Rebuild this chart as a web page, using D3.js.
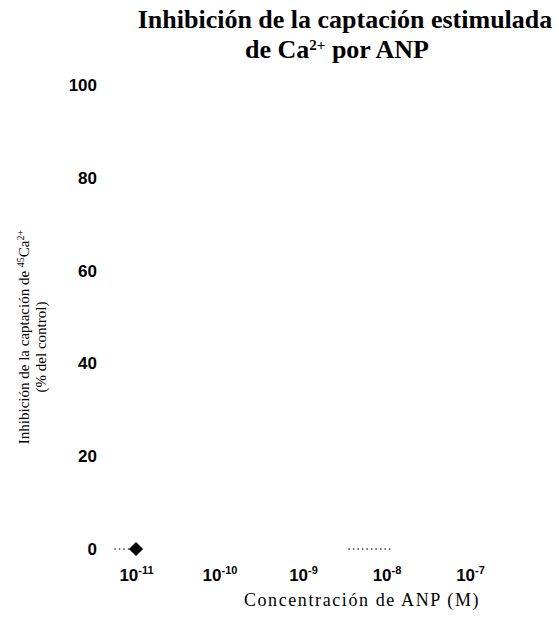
<!DOCTYPE html>
<html>
<head>
<meta charset="utf-8">
<script src="https://cdn.jsdelivr.net/npm/d3@7"></script>
<style>
  body { margin: 0; background: #fff; }
  svg { display: block; }
</style>
</head>
<body>
<div id="chart"></div>
<script>
// data
const concentrations = [1e-11];
const inhibition = [0];
// faint dotted remnants along the zero line
const dottedStarts = [5.5e-12, 3.5e-9];
const dottedEnds = [8.9e-12, 1.2e-8];
const xTicks = [1e-11, 1e-10, 1e-9, 1e-8, 1e-7];
const xTickExponents = ["-11", "-10", "-9", "-8", "-7"];
const yTicks = [0, 20, 40, 60, 80, 100];

const width = 559, height = 620;

const svg = d3.select("#chart").append("svg")
    .attr("width", width)
    .attr("height", height);

const x = d3.scaleLog()
    .domain([1e-11, 1e-7])
    .range([136, 470]);

const y = d3.scaleLinear()
    .domain([0, 100])
    .range([549, 85]);

// title
const title = svg.append("text")
    .attr("text-anchor", "middle")
    .style("font-family", "'Liberation Serif', 'Times New Roman', serif")
    .style("font-weight", "bold")
    .style("font-size", "26px")
    .attr("fill", "#000");
title.append("tspan").attr("x", 345).attr("y", 28).text("Inhibición de la captación estimulada");
const t2 = title.append("tspan").attr("x", 337).attr("y", 58);
t2.append("tspan").text("de Ca");
t2.append("tspan").attr("dy", -8).style("font-size", "15px").text("2+");
t2.append("tspan").attr("dy", 8).text(" por ANP");

// y axis (no line, labels only)
const yAxis = svg.append("g")
    .attr("transform", "translate(97,0)")
    .call(d3.axisLeft(y).tickValues(yTicks).tickSize(0).tickPadding(0));
yAxis.select(".domain").remove();
yAxis.selectAll("text")
    .style("font-family", "'Liberation Sans', Arial, sans-serif")
    .style("font-weight", "bold")
    .style("font-size", "17px")
    .attr("fill", "#000");

// x axis (no line, labels only)
const xAxis = svg.append("g")
    .attr("transform", "translate(0,560)")
    .call(d3.axisBottom(x).tickValues(xTicks).tickSize(0).tickPadding(0).tickFormat(""));
xAxis.select(".domain").remove();
xAxis.selectAll(".tick text").each(function(d, i) {
    const t = d3.select(this)
        .attr("dy", "21px")
        .style("font-family", "'Liberation Sans', Arial, sans-serif")
        .style("font-weight", "bold")
        .style("font-size", "17px")
        .attr("fill", "#000");
    t.append("tspan").text("10");
    t.append("tspan").attr("dy", -7).style("font-size", "11px").text(xTickExponents[i]);
});

// axis titles
svg.append("text")
    .attr("x", 362)
    .attr("y", 606)
    .attr("text-anchor", "middle")
    .style("font-family", "'Liberation Serif', 'Times New Roman', serif")
    .style("font-size", "18px")
    .style("letter-spacing", "1.6px")
    .attr("fill", "#000")
    .text("Concentración de ANP (M)");

const yTitle = svg.append("text")
    .attr("transform", "translate(0,337) rotate(-90)")
    .attr("text-anchor", "middle")
    .style("font-family", "'Liberation Serif', 'Times New Roman', serif")
    .style("font-size", "15px")
    .attr("fill", "#000");
const yl1 = yTitle.append("tspan").attr("x", 0).attr("y", 29);
yl1.append("tspan").text("Inhibición de la captación de ");
yl1.append("tspan").attr("dy", -5).style("font-size", "10px").text("45");
yl1.append("tspan").attr("dy", 5).text("Ca");
yl1.append("tspan").attr("dy", -5).style("font-size", "10px").text("2+");
yTitle.append("tspan").attr("x", -10).attr("y", 46).text("(% del control)");

// dotted remnants
const segments = dottedStarts.map((s, i) => [s, dottedEnds[i]]);
svg.append("g").selectAll("line")
    .data(segments)
    .join("line")
    .attr("x1", d => x(d[0]))
    .attr("x2", d => x(d[1]))
    .attr("y1", y(0))
    .attr("y2", y(0))
    .attr("stroke", "#444")
    .attr("stroke-width", 1.5)
    .attr("stroke-dasharray", "1.5,3");

// data point
svg.append("g").selectAll("path")
    .data(concentrations.map((c, i) => ({ c, v: inhibition[i] })))
    .join("path")
    .attr("d", d3.symbol().type(d3.symbolSquare).size(100))
    .attr("transform", d => `translate(${x(d.c)},${y(d.v)}) rotate(45)`)
    .attr("fill", "#000");
</script>
</body>
</html>
